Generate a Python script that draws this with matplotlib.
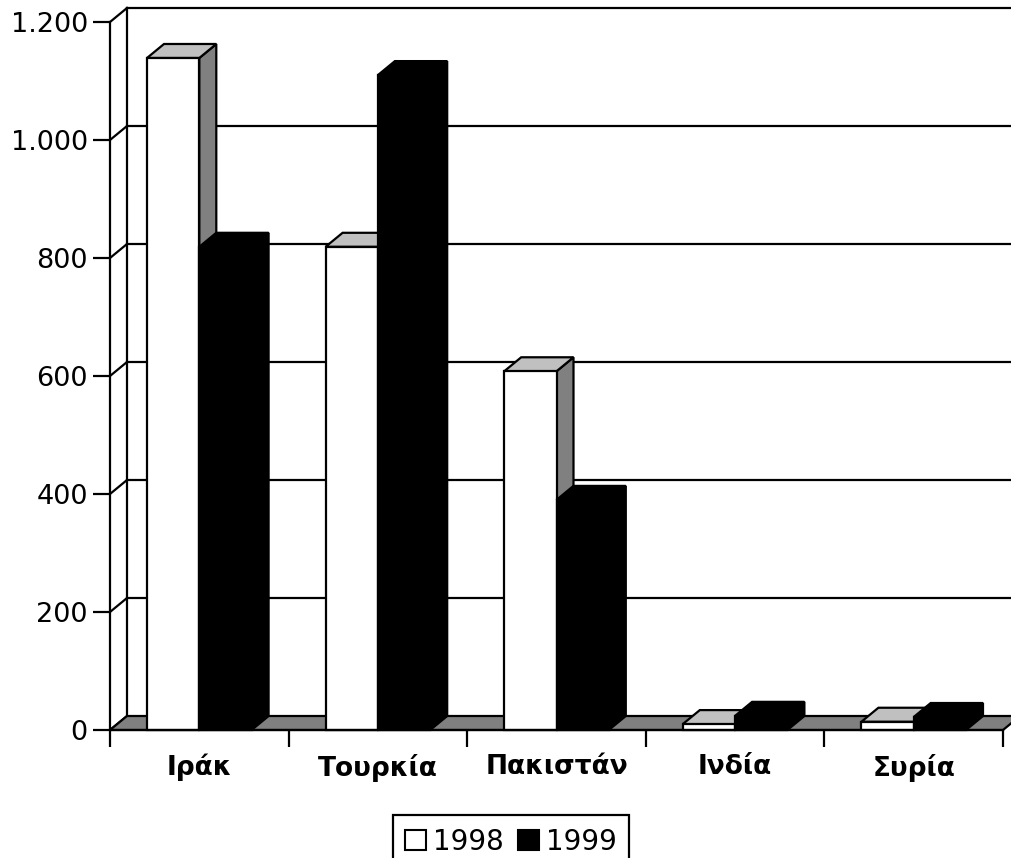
import numpy as np
import matplotlib
matplotlib.use('Agg')
import matplotlib.pyplot as plt
from matplotlib.patches import Polygon, Patch
from matplotlib.ticker import FuncFormatter, FixedLocator

# data ------------------------------------------------------------------
categories = ['Ιράκ', 'Τουρκία', 'Πακιστάν', 'Ινδία', 'Συρία']
series_names = ['1998', '1999']
values_1998 = [1139, 819, 608, 10, 14]
values_1999 = [819, 1110, 390, 24, 22]
y_ticks = [0, 200, 400, 600, 800, 1000, 1200]

# styles: (front, top, side)
face_cols = [('white', '#c0c0c0', '#808080'), ('black', 'black', 'black')]
W, H, DPI = 1011, 858, 100
lw = 1.6

fig = plt.figure(figsize=(W / DPI, H / DPI), dpi=DPI)
# front plane of the 3d box
ax = fig.add_axes([110 / W, (H - 730) / H, (1003 - 110) / W, (730 - 22) / H])
n = len(categories)
ax.set_xlim(0, n)
ax.set_ylim(0, max(y_ticks))

# depth offset in data units (about 17 px right, 14 px up)
dx = 17 / ((1003 - 110) / n)
dy = 14 / ((730 - 22) / max(y_ticks))

# side wall + back wall gridlines
for t in y_ticks:
    ax.plot([0, dx], [t, t + dy], color='black', lw=lw, clip_on=False, zorder=1)
    if t > 0:
        ax.plot([dx, n + 0.2], [t + dy, t + dy], color='black', lw=lw,
                clip_on=False, zorder=1)
ax.plot([dx, dx], [dy, max(y_ticks) + dy], color='black', lw=lw,
        clip_on=False, zorder=1)

# floor
floor = Polygon([(0, 0), (n, 0), (n + dx, dy), (dx, dy)], closed=True,
                facecolor='#808080', edgecolor='black', lw=lw,
                clip_on=False, zorder=2)
ax.add_patch(floor)

# bars
gap = 37 / ((1003 - 110) / n)
bw = (1 - 2 * gap) / 2
for i in range(n):
    for s, vals in enumerate([values_1998, values_1999]):
        v = vals[i]
        x0 = i + gap + s * bw
        fc, tc, sc = face_cols[s]
        z = 3 + i * 2 + s
        front = Polygon([(x0, 0), (x0 + bw, 0), (x0 + bw, v), (x0, v)],
                        facecolor=fc, edgecolor='black', lw=lw,
                        joinstyle='miter', clip_on=False, zorder=z)
        top = Polygon([(x0, v), (x0 + bw, v), (x0 + bw + dx, v + dy),
                       (x0 + dx, v + dy)],
                      facecolor=tc, edgecolor='black', lw=lw,
                      joinstyle='miter', clip_on=False, zorder=z)
        side = Polygon([(x0 + bw, 0), (x0 + bw + dx, dy),
                        (x0 + bw + dx, v + dy), (x0 + bw, v)],
                       facecolor=sc, edgecolor='black', lw=lw,
                       joinstyle='miter', clip_on=False, zorder=z)
        for p in (side, top, front):
            ax.add_patch(p)

# axes look
for sp in ['top', 'right']:
    ax.spines[sp].set_visible(False)
for sp in ['left', 'bottom']:
    ax.spines[sp].set_linewidth(lw)
    ax.spines[sp].set_zorder(30)

ax.yaxis.set_major_locator(FixedLocator(y_ticks))
ax.yaxis.set_major_formatter(FuncFormatter(
    lambda v, p: '{:,.0f}'.format(v).replace(',', '.')))
ax.tick_params(axis='y', direction='out', length=12, width=lw, pad=4,
               labelsize=19.5)

ax.xaxis.set_major_locator(FixedLocator(np.arange(n + 1)))
ax.xaxis.set_minor_locator(FixedLocator(np.arange(n) + 0.5))
ax.xaxis.set_major_formatter(FuncFormatter(lambda v, p: ''))
ax.xaxis.set_minor_formatter(FuncFormatter(
    lambda v, p: categories[int(v)] if 0 <= int(v) < n else ''))
ax.tick_params(axis='x', which='major', direction='out', length=12, width=lw)
ax.tick_params(axis='x', which='minor', length=0, pad=17, labelsize=19)
for lab in ax.xaxis.get_minorticklabels():
    lab.set_fontweight('bold')
ax.set_facecolor('none')

handles = [Patch(facecolor=face_cols[k][0], edgecolor='black', lw=1.5,
                 label=series_names[k]) for k in range(2)]
leg = fig.legend(handles=handles, loc='upper center',
                 bbox_to_anchor=(511 / W, (H - 815) / H), ncol=2,
                 fontsize=20, frameon=True, fancybox=False, framealpha=1,
                 handlelength=0.75, handleheight=0.75, handletextpad=0.25,
                 columnspacing=0.5, borderpad=0.45, borderaxespad=0)
leg.get_frame().set_edgecolor('black')
leg.get_frame().set_linewidth(lw)

fig.savefig('out.png', dpi=DPI)
